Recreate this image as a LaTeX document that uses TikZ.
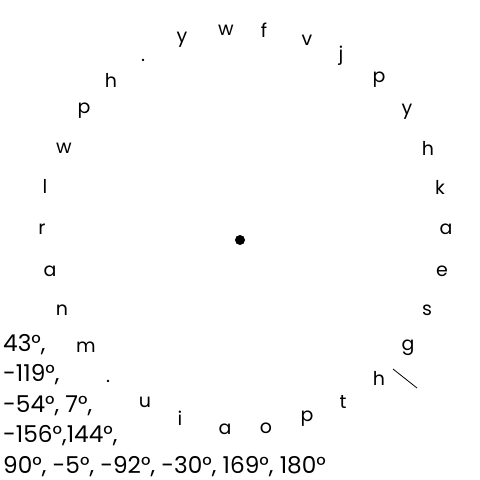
\documentclass[tikz,border=0pt]{standalone}
\usepackage{fontspec}
\setmainfont{Poppins}
\begin{document}
\begin{tikzpicture}[x=1pt,y=-1pt,
  lbl/.style={inner sep=0pt,anchor=center,font=\fontsize{19}{19}\selectfont},
  deg/.style={inner sep=0pt,anchor=north west,align=left,font=\fontsize{23.2}{30.5}\selectfont}]
\useasboundingbox (0,0) rectangle (480,480);
\fill (240,240) circle (5) coordinate (c);
\foreach \t/\x/\y [count=\i] in {y/182/40, w/226/30, f/264/30, v/307/40, j/341/56, p/379/80, y/407/112, h/428/148, k/440/187, a/446/229, e/442/271, s/427/310, g/408/348, h/379/378, t/343/402, p/307/419, o/266/428, a/225/429, i/180/418, u/145/402, ./108/381, m/86/347, n/62/310, a/50/271, r/42/229, l/45/186, w/64/148, p/84/111, h/111/80, ./143/60}
  \node[lbl] (n\i) at (\x,\y) {\t};
\coordinate (s1) at (393,369);
\coordinate (s2) at (417,388);
\draw[line width=0.8pt] (s1) -- (s2);
\node[deg] (degs) at (3,334) {43°,\\-119°,\\-54°, 7°,\\-156°,144°,\\90°, -5°, -92°, -30°, 169°, 180°};
\end{tikzpicture}
\end{document}
